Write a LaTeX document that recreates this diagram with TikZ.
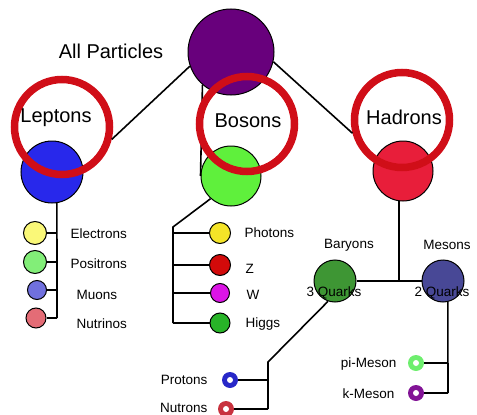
\documentclass[tikz,border=0pt]{standalone}
\usepackage{fontspec}
\setmainfont{Liberation Sans}
\usetikzlibrary{positioning}

\definecolor{allpurple}{RGB}{104,0,124}
\definecolor{lepblue}{RGB}{40,40,235}
\definecolor{bosgreen}{RGB}{95,240,60}
\definecolor{hadred}{RGB}{232,30,58}
\definecolor{ringred}{RGB}{208,14,24}
\definecolor{bargreen}{RGB}{62,150,52}
\definecolor{mesblue}{RGB}{72,72,150}
\definecolor{elyellow}{RGB}{250,248,120}
\definecolor{poslime}{RGB}{130,238,120}
\definecolor{muviolet}{RGB}{112,112,222}
\definecolor{nupink}{RGB}{228,108,118}
\definecolor{phoyellow}{RGB}{244,228,40}
\definecolor{zred}{RGB}{210,10,10}
\definecolor{wmagenta}{RGB}{220,20,230}
\definecolor{higgsgreen}{RGB}{40,180,40}
\definecolor{problue}{RGB}{40,40,200}
\definecolor{neured}{RGB}{200,50,62}
\definecolor{pigreen}{RGB}{110,238,110}
\definecolor{kpurple}{RGB}{130,20,150}

\tikzset{
  ball/.style={circle, draw=black, line width=1pt, inner sep=0pt, minimum size=#1},
  ringmark/.style={circle, draw=ringred, line width=7.5pt, inner sep=0pt, minimum size=95pt},
  hollow/.style={circle, fill=#1, inner sep=0pt, minimum size=16pt,
    path picture={\fill[white] (path picture bounding box.center) circle (3pt);}},
  bigtext/.style={font=\fontsize{20}{24}\selectfont},
  smalltext/.style={font=\fontsize{13.5}{16}\selectfont},
  wire/.style={line width=1.6pt, draw=black},
}

\begin{document}
\begin{tikzpicture}[x=1pt,y=-1pt]
    \useasboundingbox (0,0) rectangle (477,415);
    % top of the tree
    \node [ball=86pt, fill=allpurple] (all) at (231,52) {};
    \node [bigtext] (allL) at (111,51) {All Particles};
    % families
    \node [ball=62pt, fill=lepblue] (lep) at (52,172) {};
    \node [ball=60pt, fill=bosgreen] (bos) at (231,176) {};
    \node [ball=60pt, fill=hadred] (had) at (403,171) {};
    \path (all.229) edge [wire] (bos.180);
    % leptons
    \node [ball=23pt, fill=elyellow] (el) at (35,233) {};
    \node [ball=23pt, fill=poslime] (pos) at (35,262) {};
    \node [ball=19pt, fill=muviolet] (mu) at (37,290) {};
    \node [ball=20pt, fill=nupink] (nu) at (36,318) {};
    \coordinate (lepJ) at (57,318);
    \draw [wire] (lep.279) -- (lepJ);
    \foreach \p in {el,pos,mu,nu}
      \draw [wire] (\p) -- (\p -| lepJ);
    \node [smalltext,anchor=west] at (67,234) {Electrons};
    \node [smalltext,anchor=west] at (67,264) {Positrons};
    \node [smalltext,anchor=west] at (73,295) {Muons};
    \node [smalltext,anchor=west] at (73,324) {Nutrinos};
    % bosons
    \node [ball=21pt, fill=phoyellow] (pho) at (220,233) {};
    \node [ball=21pt, fill=zred] (zb) at (220,265) {};
    \node [ball=19pt, fill=wmagenta] (wb) at (220,293) {};
    \node [ball=20pt, fill=higgsgreen] (hig) at (220,323) {};
    \coordinate (bosJ) at (173,227);
    \draw [wire] (bos.228) -- (bosJ) -- (bosJ |- hig);
    \foreach \p in {pho,zb,wb,hig}
      \draw [wire] (\p) -- (\p -| bosJ);
    \node [smalltext,anchor=west] at (241,233) {Photons};
    \node [smalltext,anchor=west] at (242,269) {Z};
    \node [smalltext,anchor=west] at (243,295) {W};
    \node [smalltext,anchor=west] at (242,324) {Higgs};
    % hadrons
    \node [ball=42pt, fill=bargreen] (bar) at (335,281) {};
    \node [ball=42pt, fill=mesblue] (mes) at (443,281) {};
    \draw [wire] (bar) -- (mes);
    \draw [wire] (had.262) -- (had.262 |- bar);
    \node [smalltext] at (349,245) {Baryons};
    \node [smalltext] at (447,245) {Mesons};
    \node [smalltext] at (334,293) {3 Quarks};
    \node [smalltext] at (442,293) {2 Quarks};
    % baryons
    \node [hollow=problue] (pro) at (230,380) {};
    \node [hollow=neured] (neu) at (226,409) {};
    \coordinate (barJ) at (268,362);
    \draw [wire] (bar.251) -- (barJ) -- (barJ |- neu);
    \draw [wire] (pro) -- (pro -| barJ);
    \draw [wire] (neu) -- (neu -| barJ);
    \node [smalltext,anchor=east] at (211,380) {Protons};
    \node [smalltext,anchor=east] at (211,408) {Nutrons};
    % mesons
    \node [hollow=pigreen] (pim) at (416,363) {};
    \node [hollow=kpurple] (kam) at (416,393) {};
    \coordinate (mesJ) at (448,393);
    \draw [wire] (mes.283) -- (mesJ);
    \draw [wire] (pim) -- (pim -| mesJ);
    \draw [wire] (kam) -- (mesJ);
    \node [smalltext,anchor=east] at (400,364) {pi-Meson};
    \node [smalltext,anchor=east] at (398,394) {k-Meson};
    % red rings
    \node [ringmark] (lepR) at (62,127) {};
    \node [ringmark] (bosR) at (247,124) {};
    \node [ringmark] (hadR) at (402,120) {};
    \path (all.199) edge [wire] (lepR.346);
    \path (all.347) edge [wire] (hadR.195);
    \node [bigtext] at (56,118) {Leptons};
    \node [bigtext] at (248,121) {Bosons};
    \node [bigtext] at (404,117) {Hadrons};
\end{tikzpicture}
\end{document}
